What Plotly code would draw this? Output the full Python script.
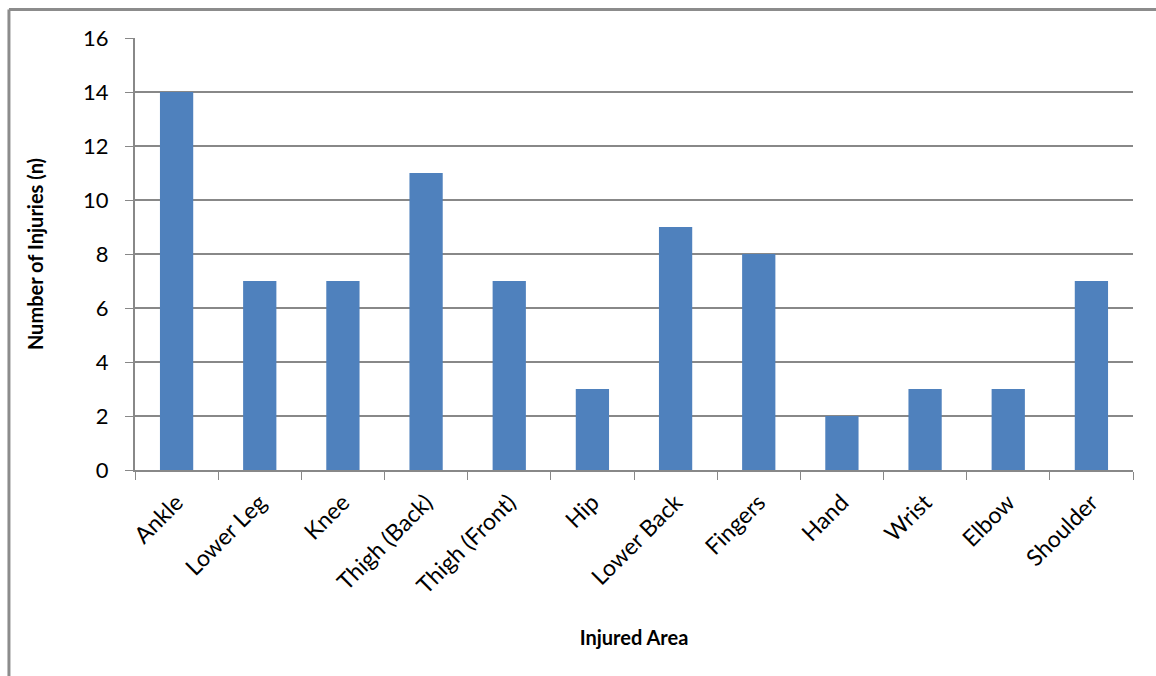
import plotly.graph_objects as go

areas = ["Ankle", "Lower Leg", "Knee", "Thigh (Back)", "Thigh (Front)", "Hip",
         "Lower Back", "Fingers", "Hand", "Wrist", "Elbow", "Shoulder"]
injuries = [14, 7, 7, 11, 7, 3, 9, 8, 2, 3, 3, 7]
y_ticks = [0, 2, 4, 6, 8, 10, 12, 14, 16]

font_name = "Lato, 'Open Sans', sans-serif"
grey = "#888888"

fig = go.Figure(go.Bar(x=areas, y=injuries, marker=dict(color="#4F81BD", line=dict(width=0))))

fig.update_layout(
    width=1156, height=676,
    margin=dict(l=135, r=23, t=38, b=206, autoexpand=False),
    paper_bgcolor="white", plot_bgcolor="white",
    bargap=0.6,
    showlegend=False,
    font=dict(family=font_name, size=22, color="black"),
)

fig.update_xaxes(
    tickangle=-45, tickson="boundaries", ticks="outside", ticklen=8, tickcolor=grey,
    ticklabelstandoff=8,
    showline=True, linecolor=grey, linewidth=2,
    title=dict(text="<b>Injured Area</b>", font=dict(size=20), standoff=33),
    tickfont=dict(size=23),
)
fig.update_yaxes(
    range=[0, 16], tickvals=y_ticks, ticks="outside", ticklen=8, tickcolor=grey,
    ticklabelstandoff=12,
    showline=True, linecolor=grey, linewidth=2,
    showgrid=True, gridcolor=grey, gridwidth=1.5, zeroline=False,
    title=dict(text="<b>Number of Injuries (n)</b>", font=dict(size=20), standoff=34),
    tickfont=dict(size=22),
)

# chart area border: only left and top edges are inside the picture
border = dict(color="#8c8c8c", width=3)
fig.add_shape(type="line", xref="paper", yref="paper",
              x0=-0.1263, x1=-0.1263, y0=-0.5, y1=1.066, line=border)
fig.add_shape(type="line", xref="paper", yref="paper",
              x0=-0.1263, x1=1.2, y0=1.066, y1=1.066, line=border)

fig.write_html("out.html", config={"displayModeBar": False},
               post_script="document.body.style.margin='0';")
